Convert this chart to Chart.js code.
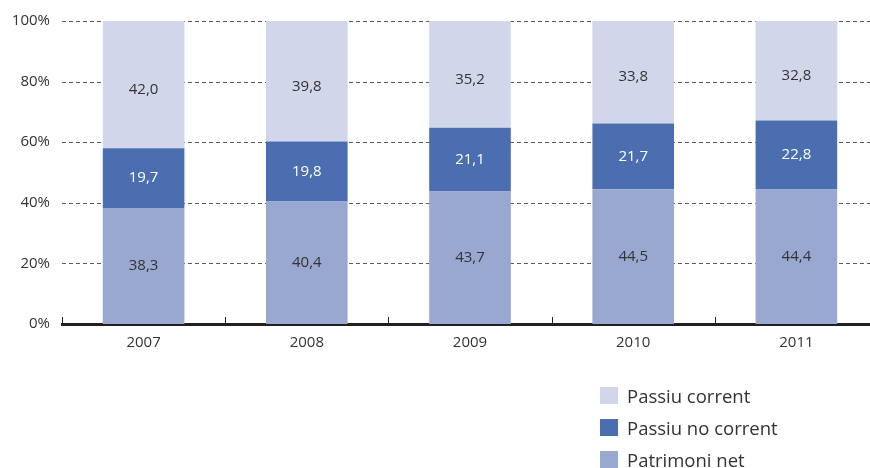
<!DOCTYPE html>
<html>
<head>
<meta charset="utf-8">
<script src="https://cdn.jsdelivr.net/npm/chart.js@4/dist/chart.umd.min.js"></script>
<style>
  html, body { margin: 0; padding: 0; background: #fff; }
  #wrap { position: relative; width: 870px; height: 468px; overflow: hidden; }
  #chart { position: absolute; left: 0; top: 0; }
  #legend { position: absolute; left: 600px; top: 379px; font-family: "Open Sans", sans-serif; font-size: 18.5px; color: #333; }
  #legend div { display: flex; align-items: center; height: 32px; }
  #legend span.box { display: inline-block; width: 18px; height: 17px; margin-right: 9px; }
</style>
</head>
<body>
<div id="wrap">
  <canvas id="chart" width="880" height="468"></canvas>
  <div id="legend"></div>
</div>
<script>
// Balance structure by year (percent of total)
const years = ['2007', '2008', '2009', '2010', '2011'];
const patrimoniNet = [38.3, 40.4, 43.7, 44.5, 44.4];
const passiuNoCorrent = [19.7, 19.8, 21.1, 21.7, 22.8];
const passiuCorrent = [42.0, 39.8, 35.2, 33.8, 32.8];
const yTicks = [0, 20, 40, 60, 80, 100];

const FONT = '"Open Sans", sans-serif';
const TEXT = '#333333';

// Dashed horizontal guides at each y tick, behind the bars
const dashedGrid = {
  id: 'dashedGrid',
  beforeDatasetsDraw(chart) {
    const y = chart.scales.y;
    const { left, right } = chart.chartArea;
    const ctx = chart.ctx;
    ctx.save();
    ctx.strokeStyle = '#5a5a5a';
    ctx.lineWidth = 1;
    ctx.setLineDash([4, 3]);
    yTicks.forEach(v => {
      if (v === 0) return;
      const py = Math.round(y.getPixelForValue(v)) + 0.5;
      ctx.beginPath();
      ctx.moveTo(left, py);
      ctx.lineTo(right, py);
      ctx.stroke();
    });
    ctx.restore();
  }
};

// Value labels inside each stacked segment, Catalan decimal comma
const segmentLabels = {
  id: 'segmentLabels',
  afterDatasetsDraw(chart) {
    const ctx = chart.ctx;
    ctx.save();
    ctx.font = '15px ' + FONT;
    ctx.textAlign = 'center';
    ctx.textBaseline = 'middle';
    chart.data.datasets.forEach((ds, di) => {
      const meta = chart.getDatasetMeta(di);
      meta.data.forEach((bar, i) => {
        const v = ds.data[i];
        ctx.fillStyle = ds.labelColor;
        ctx.fillText(v.toFixed(1).replace('.', ','), bar.x, (bar.y + bar.base) / 2 + ds.labelShift);
      });
    });
    ctx.restore();
  }
};

// Short upward tick marks at the category boundaries on the baseline
const boundaryTicks = {
  id: 'boundaryTicks',
  afterDraw(chart) {
    const x = chart.scales.x;
    const ctx = chart.ctx;
    const half = (x.getPixelForValue(1) - x.getPixelForValue(0)) / 2;
    const base = chart.chartArea.bottom;
    ctx.save();
    ctx.strokeStyle = '#231f20';
    ctx.lineWidth = 1;
    for (let i = 0; i <= years.length; i++) {
      const px = Math.round(x.getPixelForValue(i) - half) + 0.5;
      ctx.beginPath();
      ctx.moveTo(px, base);
      ctx.lineTo(px, base - 7);
      ctx.stroke();
    }
    ctx.restore();
  }
};

const chart = new Chart(document.getElementById('chart'), {
  type: 'bar',
  data: {
    labels: years,
    datasets: [
      { label: 'Patrimoni net', data: patrimoniNet, backgroundColor: '#99a8d1', labelColor: TEXT, labelShift: 0 },
      { label: 'Passiu no corrent', data: passiuNoCorrent, backgroundColor: '#4a6eaf', labelColor: '#ffffff', labelShift: 0 },
      { label: 'Passiu corrent', data: passiuCorrent, backgroundColor: '#d1d6ea', labelColor: TEXT, labelShift: 5 }
    ]
  },
  options: {
    responsive: false,
    animation: false,
    layout: { padding: { top: 16, right: 2, bottom: 106, left: 0 } },
    datasets: { bar: { categoryPercentage: 1, barPercentage: 0.5, borderWidth: 0 } },
    plugins: {
      legend: { display: false },
      tooltip: { enabled: false }
    },
    scales: {
      x: {
        stacked: true,
        grid: { display: false, drawTicks: false },
        border: { display: true, color: '#231f20', width: 3 },
        ticks: { color: TEXT, font: { family: FONT, size: 15 }, padding: 10 }
      },
      y: {
        stacked: true,
        min: 0,
        max: 100,
        afterBuildTicks: s => { s.ticks = yTicks.map(v => ({ value: v })); },
        afterFit: s => { s.width = 62; },
        grid: { display: false, drawTicks: false },
        border: { display: false },
        ticks: {
          color: TEXT,
          font: { family: FONT, size: 15 },
          padding: 12,
          callback: v => v + '%'
        }
      }
    }
  },
  plugins: [dashedGrid, segmentLabels, boundaryTicks]
});

// Vertical legend, top series first
const legend = document.getElementById('legend');
[...chart.data.datasets].reverse().forEach(ds => {
  const row = document.createElement('div');
  const box = document.createElement('span');
  box.className = 'box';
  box.style.background = ds.backgroundColor;
  row.appendChild(box);
  row.appendChild(document.createTextNode(ds.label));
  legend.appendChild(row);
});
</script>
</body>
</html>
